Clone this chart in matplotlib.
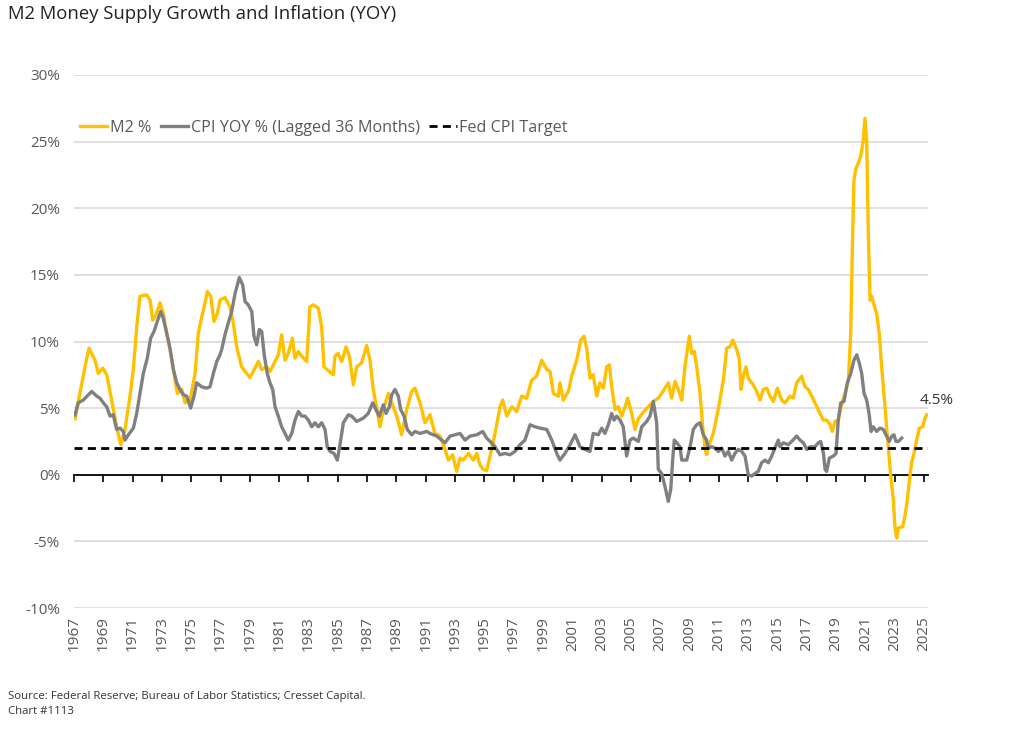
import matplotlib
matplotlib.use("Agg")
import matplotlib.pyplot as plt

plt.rcParams['font.family'] = ['Open Sans', 'DejaVu Sans']

# --- DATA ---
m2_dates = [
    1967.07, 1967.75, 1968.02, 1968.43, 1968.66, 1968.96, 1969.23, 1969.57, 1969.91, 1970.19,
    1970.48, 1970.82, 1971.05, 1971.28, 1971.50, 1971.96, 1972.19, 1972.37, 1972.60, 1972.87,
    1973.09, 1973.33, 1973.55, 1973.82, 1974.05, 1974.35, 1974.57, 1974.92, 1975.26, 1975.48,
    1975.71, 1975.94, 1976.10, 1976.33, 1976.55, 1976.78, 1976.96, 1977.30, 1977.64, 1977.87,
    1978.10, 1978.44, 1978.67, 1979.01, 1979.23, 1979.58, 1979.81, 1980.15, 1980.37, 1980.72,
    1980.94, 1981.17, 1981.40, 1981.62, 1981.90, 1982.08, 1982.31, 1982.54, 1982.88, 1983.10,
    1983.33, 1983.67, 1983.90, 1984.06, 1984.47, 1984.69, 1984.81, 1985.03, 1985.27, 1985.56,
    1985.79, 1986.06, 1986.29, 1986.63, 1986.97, 1987.20, 1987.42, 1987.66, 1987.88, 1988.11,
    1988.45, 1988.56, 1989.02, 1989.36, 1989.70, 1990.04, 1990.27, 1990.61, 1990.95, 1991.29,
    1991.63, 1991.97, 1992.32, 1992.54, 1992.84, 1993.11, 1993.34, 1993.56, 1993.91, 1994.25,
    1994.48, 1994.70, 1994.93, 1995.16, 1995.39, 1995.73, 1996.07, 1996.25, 1996.53, 1996.87,
    1997.21, 1997.55, 1997.89, 1998.23, 1998.57, 1998.91, 1999.26, 1999.48, 1999.71, 2000.05,
    2000.16, 2000.39, 2000.73, 2000.96, 2001.30, 2001.58, 2001.80, 2001.98, 2002.21, 2002.43,
    2002.67, 2002.89, 2003.12, 2003.35, 2003.53, 2003.69, 2003.92, 2004.14, 2004.37, 2004.60,
    2004.78, 2005.06, 2005.28, 2005.51, 2005.85, 2006.19, 2006.53, 2006.87, 2007.10, 2007.33,
    2007.55, 2007.78, 2008.01, 2008.24, 2008.47, 2008.69, 2008.85, 2008.99, 2009.15, 2009.33,
    2009.49, 2009.72, 2009.90, 2010.06, 2010.17, 2010.40, 2010.62, 2010.96, 2011.31, 2011.54,
    2011.76, 2011.95, 2012.22, 2012.40, 2012.51, 2012.67, 2012.85, 2013.01, 2013.35, 2013.59,
    2013.81, 2014.03, 2014.27, 2014.49, 2014.72, 2014.99, 2015.29, 2015.52, 2015.86, 2016.08,
    2016.31, 2016.66, 2016.88, 2017.11, 2017.34, 2017.68, 2017.90, 2018.13, 2018.36, 2018.59,
    2018.74, 2018.93, 2019.15, 2019.38, 2019.61, 2019.84, 2020.00, 2020.11, 2020.22, 2020.36,
    2020.52, 2020.68, 2020.86, 2020.97, 2021.09, 2021.20, 2021.32, 2021.43, 2021.59, 2021.77,
    2021.95, 2022.11, 2022.34, 2022.56, 2022.73, 2022.91, 2023.02, 2023.14, 2023.25, 2023.55,
    2023.70, 2023.86, 2024.04, 2024.16, 2024.32, 2024.50, 2024.68, 2024.91, 2025.07, 2025.18,
]
m2_yoy = [
    4.2, 8.1, 9.5, 8.6, 7.6, 8.0, 7.5, 5.6, 3.6, 2.25,
    3.4, 5.9, 7.9, 11.1, 13.4, 13.5, 13.1, 11.6, 12.0, 12.9,
    12.1, 10.6, 9.4, 7.6, 6.1, 6.4, 5.4, 5.6, 7.6, 10.6,
    11.8, 12.9, 13.75, 13.4, 11.5, 12.1, 13.1, 13.3, 12.6, 11.4,
    9.6, 8.1, 7.75, 7.3, 7.75, 8.5, 7.9, 8.1, 7.75, 8.5,
    9.0, 10.5, 8.6, 9.1, 10.25, 8.75, 9.25, 8.9, 8.5, 12.6,
    12.75, 12.5, 11.1, 8.1, 7.7, 7.5, 8.9, 9.1, 8.5, 9.6,
    8.9, 6.75, 8.1, 8.4, 9.7, 8.6, 6.4, 5.0, 3.6, 4.9,
    6.1, 5.75, 4.4, 3.0, 4.9, 6.25, 6.5, 5.4, 3.9, 4.5,
    3.1, 2.9, 1.9, 1.1, 1.5, 0.25, 1.25, 1.1, 1.6, 1.1,
    1.6, 0.75, 0.4, 0.3, 1.4, 3.1, 5.1, 5.6, 4.4, 5.1,
    4.75, 5.9, 5.75, 7.1, 7.4, 8.6, 7.9, 7.75, 6.1, 5.9,
    6.9, 5.6, 6.25, 7.4, 8.6, 10.1, 10.4, 9.5, 7.25, 7.5,
    5.9, 6.9, 6.5, 8.1, 8.25, 6.6, 4.9, 5.1, 4.4, 5.1,
    5.75, 4.6, 3.4, 4.2, 4.7, 5.1, 5.5, 5.75, 6.1, 6.5,
    6.9, 5.75, 7.0, 6.4, 5.6, 8.1, 9.4, 10.4, 9.1, 9.25,
    8.1, 6.1, 3.6, 2.0, 1.5, 2.4, 3.1, 4.9, 7.1, 9.5,
    9.6, 10.1, 9.4, 8.6, 6.4, 7.4, 8.1, 7.25, 6.75, 6.25,
    5.6, 6.4, 6.5, 5.9, 5.5, 6.5, 5.6, 5.4, 5.9, 5.75,
    6.9, 7.4, 6.6, 6.4, 5.9, 5.1, 4.6, 4.1, 4.1, 3.75,
    3.25, 4.0, 4.1, 5.25, 6.1, 7.1, 10.6, 16.9, 22.1, 23.0,
    23.4, 23.9, 25.1, 26.75, 25.1, 18.1, 13.1, 13.4, 12.75, 12.1,
    10.6, 8.1, 5.1, 2.1, -0.1, -1.9, -3.9, -4.75, -4.0, -3.9,
    -3.1, -1.9, -0.1, 0.9, 1.6, 2.6, 3.5, 3.6, 4.25, 4.5,
]

cpi_dates = [
    1967.07, 1967.29, 1967.63, 1967.98, 1968.21, 1968.55, 1968.77, 1969.00, 1969.23, 1969.46,
    1969.68, 1969.91, 1970.14, 1970.36, 1970.48, 1970.71, 1971.05, 1971.28, 1971.50, 1971.73,
    1972.00, 1972.23, 1972.46, 1972.68, 1972.92, 1973.09, 1973.33, 1973.55, 1973.78, 1974.01,
    1974.23, 1974.46, 1974.69, 1974.96, 1975.19, 1975.37, 1975.71, 1976.05, 1976.28, 1976.51,
    1976.74, 1976.96, 1977.08, 1977.30, 1977.53, 1977.76, 1977.99, 1978.28, 1978.51, 1978.67,
    1978.89, 1979.13, 1979.28, 1979.47, 1979.64, 1979.81, 1979.99, 1980.19, 1980.37, 1980.56,
    1980.72, 1980.94, 1981.17, 1981.40, 1981.62, 1981.86, 1982.08, 1982.31, 1982.54, 1982.76,
    1982.99, 1983.22, 1983.44, 1983.67, 1983.90, 1984.13, 1984.28, 1984.47, 1984.74, 1984.97,
    1985.20, 1985.38, 1985.72, 1985.95, 1986.29, 1986.74, 1987.08, 1987.38, 1987.66, 1987.83,
    1988.11, 1988.29, 1988.52, 1988.68, 1988.90, 1989.13, 1989.29, 1989.52, 1989.74, 1990.04,
    1990.27, 1990.61, 1991.07, 1991.29, 1991.75, 1992.09, 1992.32, 1992.66, 1993.00, 1993.34,
    1993.68, 1994.02, 1994.48, 1994.89, 1995.16, 1995.39, 1995.73, 1996.07, 1996.41, 1996.75,
    1997.09, 1997.43, 1997.77, 1998.12, 1998.46, 1998.80, 1999.26, 1999.60, 1999.94, 2000.16,
    2000.50, 2000.85, 2001.19, 2001.53, 2001.87, 2002.21, 2002.43, 2002.78, 2003.01, 2003.23,
    2003.46, 2003.69, 2003.85, 2004.03, 2004.26, 2004.48, 2004.71, 2004.94, 2005.16, 2005.51,
    2005.74, 2006.08, 2006.30, 2006.53, 2006.76, 2006.87, 2007.10, 2007.33, 2007.55, 2007.72,
    2007.85, 2007.96, 2008.13, 2008.35, 2008.47, 2008.81, 2009.04, 2009.26, 2009.49, 2009.72,
    2009.94, 2010.17, 2010.28, 2010.51, 2010.74, 2010.96, 2011.20, 2011.42, 2011.65, 2011.88,
    2012.10, 2012.33, 2012.56, 2012.79, 2013.01, 2013.24, 2013.47, 2013.69, 2013.92, 2014.15,
    2014.38, 2014.61, 2014.83, 2015.06, 2015.17, 2015.40, 2015.74, 2015.97, 2016.31, 2016.54,
    2016.77, 2017.00, 2017.22, 2017.56, 2017.79, 2017.95, 2018.14, 2018.25, 2018.36, 2018.54,
    2018.81, 2019.00, 2019.15, 2019.32, 2019.54, 2019.77, 2020.00, 2020.22, 2020.41, 2020.58,
    2020.75, 2020.91, 2021.09, 2021.25, 2021.39, 2021.54, 2021.77, 2022.00, 2022.22, 2022.45,
    2022.63, 2022.80, 2022.95, 2023.09, 2023.25, 2023.48,
]
cpi_yoy = [
    4.5, 5.4, 5.6, 6.0, 6.25, 5.9, 5.75, 5.4, 5.1, 4.4,
    4.5, 3.4, 3.5, 3.25, 2.6, 3.0, 3.5, 4.6, 6.1, 7.6,
    8.75, 10.25, 10.75, 11.5, 12.25, 11.75, 10.6, 9.5, 7.9, 6.9,
    6.4, 6.0, 5.9, 5.0, 5.9, 6.9, 6.6, 6.5, 6.6, 7.6,
    8.5, 9.0, 9.4, 10.5, 11.4, 12.25, 13.6, 14.8, 14.25, 13.0,
    12.75, 12.25, 10.4, 9.75, 10.9, 10.75, 8.9, 7.6, 6.9, 6.4,
    5.1, 4.4, 3.6, 3.1, 2.6, 3.1, 4.1, 4.75, 4.4, 4.4,
    4.1, 3.6, 3.9, 3.6, 3.9, 3.4, 2.1, 1.75, 1.6, 1.1,
    2.6, 3.9, 4.5, 4.4, 4.0, 4.25, 4.6, 5.4, 4.75, 4.4,
    5.25, 4.6, 5.1, 6.0, 6.4, 5.9, 4.9, 4.4, 3.4, 3.0,
    3.25, 3.1, 3.25, 3.1, 2.9, 2.6, 2.4, 2.9, 3.0, 3.1,
    2.6, 2.9, 3.0, 3.25, 2.75, 2.5, 2.1, 1.5, 1.6, 1.5,
    1.75, 2.25, 2.6, 3.75, 3.6, 3.5, 3.4, 2.6, 1.6, 1.1,
    1.6, 2.25, 3.0, 2.1, 1.9, 1.75, 3.1, 3.0, 3.5, 3.1,
    3.75, 4.6, 4.1, 4.4, 4.1, 3.6, 1.4, 2.6, 2.75, 2.5,
    3.6, 4.0, 4.4, 5.5, 3.9, 0.4, 0.1, -0.9, -2.0, -1.1,
    1.1, 2.6, 2.4, 2.1, 1.1, 1.1, 2.1, 3.4, 3.75, 3.9,
    3.0, 2.6, 2.0, 2.1, 2.0, 1.75, 2.0, 1.4, 1.75, 1.1,
    1.6, 1.9, 1.75, 1.4, 0.0, -0.1, 0.1, 0.25, 0.9, 1.1,
    0.9, 1.4, 2.0, 2.6, 2.1, 2.4, 2.25, 2.5, 2.9, 2.6,
    2.4, 1.9, 2.1, 2.1, 2.4, 2.5, 1.6, 0.4, 0.25, 1.25,
    1.4, 1.6, 4.1, 5.4, 5.5, 6.9, 7.6, 8.6, 9.0, 8.4,
    7.6, 6.1, 5.6, 4.6, 3.25, 3.6, 3.25, 3.5, 3.4, 2.9,
    2.5, 2.9, 3.0, 2.5, 2.5, 2.75,
]

fed_target = 2.0
last_label = "4.5%"
year_ticks = list(range(1967, 2026, 2))
y_ticks = [-10, -5, 0, 5, 10, 15, 20, 25, 30]

YELLOW = '#FFC000'
GRAY = '#808080'
TXT = '#595959'

fig = plt.figure(figsize=(10.24, 7.44), dpi=100)
ax = fig.add_axes([74 / 1024, 1 - 608 / 744, 854 / 1024, 533 / 744])

ax.set_xlim(1967, 1967 + 854 / 14.655)
ax.set_ylim(-10, 30)

for v in y_ticks:
    if v != 0:
        ax.axhline(v, color='#d9d9d9', linewidth=1.2, zorder=0)

ax.plot(m2_dates, m2_yoy, color=YELLOW, linewidth=2.4, label='M2 %', zorder=2)
ax.plot(cpi_dates, cpi_yoy, color=GRAY, linewidth=2.4,
        label='CPI YOY % (Lagged 36 Months)', zorder=3)
ax.axhline(fed_target, color='black', linewidth=2, linestyle=(0, (2.9, 1.9)),
           label='Fed CPI Target', zorder=4)

for s in ax.spines.values():
    s.set_visible(False)

ax.set_yticks(y_ticks)
ax.set_yticklabels([f'{v}%' for v in y_ticks])
ax.set_xticks(year_ticks)
ax.set_xticklabels([str(y) for y in year_ticks], rotation=90)
ax.tick_params(axis='both', length=0, labelsize=11, labelcolor=TXT)
ax.tick_params(axis='x', pad=6)
ax.tick_params(axis='y', pad=10)

# zero line with the year ticks hanging from it
zero_ax = ax.secondary_xaxis(0.25)
zero_ax.set_xticks(year_ticks)
zero_ax.tick_params(length=5, width=1.2, color='black', labelbottom=False)
zero_ax.spines['bottom'].set_color('black')
zero_ax.spines['bottom'].set_linewidth(1.3)

ax.annotate(last_label, xy=(m2_dates[-1], m2_yoy[-1]), xytext=(-5, 8),
            textcoords='offset points', fontsize=11, color='#333333')

fig.legend(loc='center left', bbox_to_anchor=(80 / 1024, 1 - 128 / 744),
           ncol=3, frameon=False, fontsize=11.6, labelcolor=TXT,
           handlelength=1.7, handletextpad=0.15, columnspacing=0.6,
           borderpad=0, borderaxespad=0)

fig.text(8 / 1024, 1 - 14 / 744, 'M2 Money Supply Growth and Inflation (YOY)',
         fontsize=13.3, color='#222222', va='center', ha='left')
fig.text(8 / 1024, 1 - 697 / 744,
         'Source: Federal Reserve; Bureau of Labor Statistics; Cresset Capital.',
         fontsize=8.2, color='#333333', va='center', ha='left')
fig.text(8 / 1024, 1 - 711 / 744, 'Chart #1113',
         fontsize=8.2, color='#333333', va='center', ha='left')

fig.savefig('out.png', dpi=100, facecolor='white')
